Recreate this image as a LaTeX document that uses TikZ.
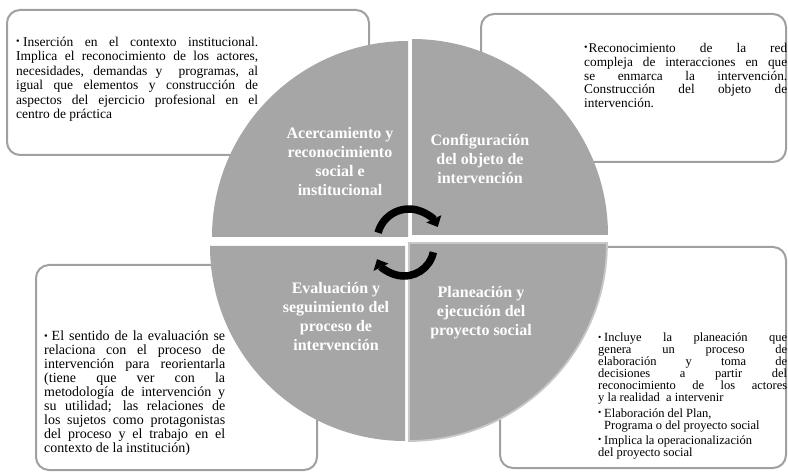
\documentclass[tikz,border=0pt]{standalone}
\usepackage{fontspec}
\setmainfont{Liberation Serif}
\usetikzlibrary{arrows.meta}
\definecolor{quadfill}{HTML}{A6A6A6}
\definecolor{boxline}{HTML}{A0A0A0}
\definecolor{quadline}{HTML}{C8C8C8}
\newcommand\bul[1][7pt]{\makebox[#1][l]{\raisebox{0.25ex}{\scalebox{0.75}{\textbullet}}}}
\tikzset{
  infobox/.style={draw=boxline, line width=2pt, rounded corners=13pt, fill=white, inner sep=0, outer sep=0},
  quadrant/.style={fill=quadfill},
  quadlabel/.style={text=white, font=\fontsize{16}{19}\selectfont\bfseries, align=center, inner sep=0},
  bodytext/.style={anchor=base west, inner sep=0, align=justify, text width=#1},
  cyc/.style={line width=7.5pt, -{Triangle[width=16pt,length=9pt]}}
}
\begin{document}
\begin{tikzpicture}[x=1pt,y=1pt]
\useasboundingbox (0,0) rectangle (788,-473);
% text boxes (behind the circle)
\node[infobox, minimum width=362pt, minimum height=145pt] (boxTL) at (188,-82.5) {};
\node[infobox, minimum width=305pt, minimum height=148pt] (boxTR) at (633.5,-88) {};
\node[infobox, minimum width=281pt, minimum height=205pt] (boxBL) at (176.5,-367.5) {};
\node[infobox, minimum width=286pt, minimum height=221pt] (boxBR) at (643,-357.5) {};
% box texts
\node[bodytext=242pt, font=\fontsize{13.5}{14.4}\selectfont] (txtTL) at (16,-46.5) {%
\noindent\hangindent=7pt\hangafter=1\bul Inserción en el contexto institucional.\linebreak
Implica el reconocimiento de los actores,\linebreak
necesidades, demandas y\ \ programas, al\linebreak
igual que elementos y construcción de\linebreak
aspectos del ejercicio profesional en el\linebreak
centro de práctica};
\node[bodytext=203pt, font=\fontsize{13.3}{13.8}\selectfont] (txtTR) at (584,-52.5) {%
\noindent\hangindent=6pt\hangafter=1\bul[4.5pt]Reconocimiento de la red\linebreak
compleja de interacciones en que\linebreak
se enmarca la intervención.\linebreak
Construcción del objeto de\linebreak
intervención.};
\node[bodytext=181pt, font=\fontsize{14}{14}\selectfont] (txtBL) at (44,-341) {%
\noindent\hangindent=7.5pt\hangafter=1\bul[7.5pt]El sentido de la evaluación se\linebreak
relaciona con el proceso de\linebreak
intervención para reorientarla\linebreak
(tiene que ver con la\linebreak
metodología de intervención y\linebreak
su utilidad; las relaciones de\linebreak
los sujetos como protagonistas\linebreak
del proceso y el trabajo en el\linebreak
contexto de la institución)};
\node[bodytext=189pt, font=\fontsize{12.5}{12.1}\selectfont] (txtBR) at (598,-341.5) {%
\noindent\bul[6pt]Incluye la planeación que\linebreak
genera un proceso de\linebreak
elaboración y toma de\linebreak
decisiones a partir del\linebreak
reconocimiento de los actores\linebreak
y la realidad\ \ a intervenir\par\vspace{3pt}
\noindent\hangindent=6pt\hangafter=1\bul[6pt]Elaboración del Plan,\newline
Programa o del proyecto social\par\vspace{3pt}
\noindent\hangindent=6pt\hangafter=1\bul[6pt]Implica la operacionalización\newline
del proyecto social};
% quadrants
\fill[quadrant] (408,-237) -- ++(-196,0) arc[start angle=180, end angle=90, radius=196] -- cycle;
\fill[quadrant] (412,-235) -- ++(0,196) arc[start angle=90, end angle=0, radius=196] -- cycle;
\filldraw[quadrant, draw=quadline, line width=1.8pt] (409,-243) -- ++(198,0) arc[start angle=0, end angle=-90, radius=198] -- cycle;
\fill[quadrant] (405,-246) -- ++(0,-195) arc[start angle=270, end angle=180, radius=195] -- cycle;
% quadrant labels
\node[quadlabel] (labTL) at (340,-162) {Acercamiento y\\reconocimiento\\social e\\institucional};
\node[quadlabel] (labTR) at (480,-159) {Configuración\\del objeto de\\intervención};
\node[quadlabel] (labBL) at (336,-316.5) {Evaluación y\\seguimiento del\\proceso de\\intervención};
\node[quadlabel] (labBR) at (481,-313) {Planeación y\\ejecución del\\proyecto social};
% cycle arrows
\coordinate (cT) at (409,-241);
\coordinate (cB) at (404,-246);
\draw[cyc] ([shift={(165:32)}]cT) arc[start angle=165, end angle=26, radius=32];
\draw[cyc] ([shift={(-12:30)}]cB) arc[start angle=-12, end angle=-154, radius=30];
\end{tikzpicture}
\end{document}
